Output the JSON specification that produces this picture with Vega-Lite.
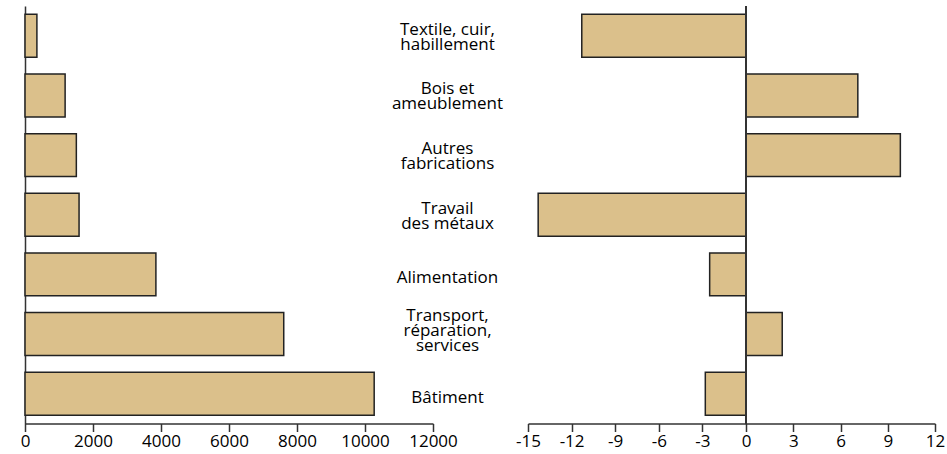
{
  "$schema": "https://vega.github.io/schema/vega-lite/v6.json",
  "padding": {"left": 20, "top": 5, "right": 5, "bottom": 4},
  "background": "white",
  "bounds": "flush",
  "spacing": 95,
  "config": {
    "view": {"stroke": null},
    "font": "Open Sans",
    "axis": {
      "grid": false,
      "domainColor": "#333333",
      "domainWidth": 1.5,
      "tickColor": "#333333",
      "tickWidth": 1.5,
      "labelFont": "Open Sans",
      "labelFontSize": 17,
      "labelColor": "#000000",
      "title": null
    }
  },
  "data": {
    "values": [
      {"secteur": "Textile, cuir,\nhabillement", "effectif": 350, "evolution": -11.3},
      {"secteur": "Bois et\nameublement", "effectif": 1180, "evolution": 7.1},
      {"secteur": "Autres\nfabrications", "effectif": 1510, "evolution": 9.8},
      {"secteur": "Travail\ndes métaux", "effectif": 1590, "evolution": -14.3},
      {"secteur": "Alimentation", "effectif": 3850, "evolution": -2.5},
      {"secteur": "Transport,\nréparation,\nservices", "effectif": 7610, "evolution": 2.3},
      {"secteur": "Bâtiment", "effectif": 10270, "evolution": -2.8}
    ]
  },
  "hconcat": [
    {
      "width": 408,
      "height": 417.5,
      "mark": {"type": "bar", "fill": "#dbc08b", "stroke": "#222222", "strokeWidth": 1.5},
      "encoding": {
        "x": {
          "field": "effectif",
          "type": "quantitative",
          "scale": {"domain": [0, 12000], "nice": false},
          "axis": {
            "values": [0, 2000, 4000, 6000, 8000, 10000, 12000],
            "format": "d",
            "tickSize": 8,
            "labelPadding": 2,
            "labelFlush": false
          }
        },
        "y": {
          "field": "secteur",
          "type": "nominal",
          "sort": null,
          "scale": {"paddingInner": 0.28, "paddingOuter": 0.14},
          "axis": {"labels": false, "ticks": false, "domain": true}
        }
      }
    },
    {
      "width": 407,
      "height": 417.5,
      "layer": [
        {
          "mark": {"type": "bar", "fill": "#dbc08b", "stroke": "#222222", "strokeWidth": 1.5},
          "encoding": {
            "x": {
              "field": "evolution",
              "type": "quantitative",
              "scale": {"domain": [-15, 0, 12], "range": [0, 218, 407], "nice": false, "zero": false},
              "axis": {
                "values": [-15, -12, -9, -6, -3, 0, 3, 6, 9, 12],
                "labelExpr": "'' + datum.value",
                "tickSize": 8,
                "labelPadding": 2,
                "labelFlush": false
              }
            },
            "y": {
              "field": "secteur",
              "type": "nominal",
              "sort": null,
              "scale": {"paddingInner": 0.28, "paddingOuter": 0.14},
              "axis": {
                "domain": false,
                "ticks": false,
                "labelAlign": "center",
                "labelBaseline": "middle",
                "labelPadding": 81,
                "labelLineHeight": 15,
                "labelLimit": 300,
                "labelOffset": {
                  "condition": [
                    {"test": "length(split(datum.value, '\\n')) == 3", "value": -18},
                    {"test": "length(split(datum.value, '\\n')) == 2", "value": -6}
                  ],
                  "value": 4
                },
                "labelExpr": "split(datum.label, '\\n')"
              }
            }
          }
        },
        {
          "mark": {"type": "rule", "color": "#333333", "strokeWidth": 1.5},
          "encoding": {"x": {"datum": 0}}
        }
      ]
    }
  ]
}
